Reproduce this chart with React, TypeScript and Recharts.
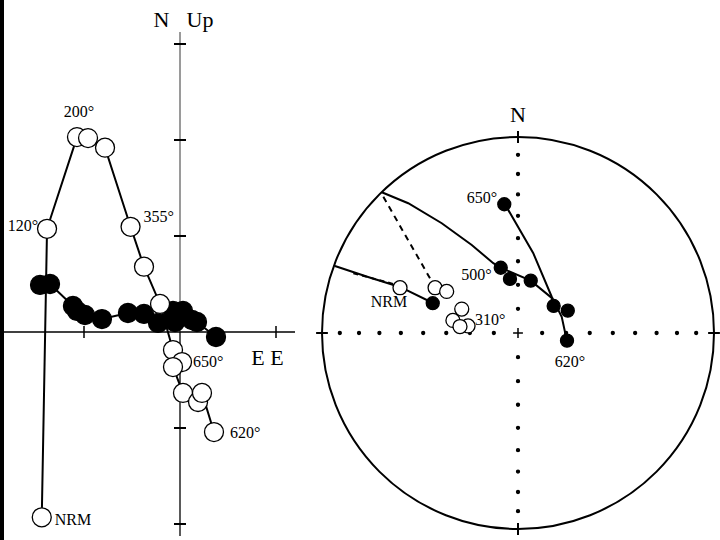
import { ReferenceDot, ReferenceLine, Scatter, ScatterChart, XAxis, YAxis } from "recharts";

const SERIF = '"Liberation Serif", "Times New Roman", serif';

// --- orthogonal (Zijderveld) plot, one unit = one axis tick ---
const zijTicksV = [-2, -1, 1, 2, 3];
const zijTicksH = [-1, 1];

// vertical projection (open)
const zijOpen = [
  { x: -1.44, y: -1.93, label: "NRM" },
  { x: -1.385, y: 1.075, label: "120°" },
  { x: -1.073, y: 2.03, label: "200°" },
  { x: -0.958, y: 2.02 },
  { x: -0.781, y: 1.92 },
  { x: -0.515, y: 1.096, label: "355°" },
  { x: -0.375, y: 0.68 },
  { x: -0.208, y: 0.292 },
  { x: -0.073, y: -0.188 },
  { x: 0.021, y: -0.313, label: "650°" },
  { x: -0.073, y: -0.365 },
  { x: 0.031, y: -0.635 },
  { x: 0.188, y: -0.729 },
  { x: 0.229, y: -0.635 },
  { x: 0.354, y: -1.042, label: "620°" },
];

// horizontal projection (filled)
const zijFilled = [
  { x: -1.458, y: 0.49 },
  { x: -1.354, y: 0.5 },
  { x: -1.115, y: 0.271 },
  { x: -1.073, y: 0.219 },
  { x: -0.99, y: 0.177 },
  { x: -0.813, y: 0.135 },
  { x: -0.542, y: 0.198 },
  { x: -0.375, y: 0.188 },
  { x: -0.229, y: 0.094 },
  { x: -0.073, y: 0.219 },
  { x: 0.031, y: 0.219 },
  { x: -0.052, y: 0.104 },
  { x: 0.125, y: 0.125 },
  { x: 0.177, y: 0.104 },
  { x: 0.375, y: -0.052 },
];

// --- equal-area stereonet, unit radius ---
const gridInc = [10, 20, 30, 40, 50, 60, 70, 80];
const axisDirs = [
  [0, 1],
  [1, 0],
  [0, -1],
  [-1, 0],
];

const stereoFilled = [
  { x: -0.07, y: 0.657, label: "650°" },
  { x: -0.088, y: 0.333, label: "500°" },
  { x: -0.041, y: 0.276 },
  { x: 0.065, y: 0.267 },
  { x: 0.182, y: 0.138 },
  { x: 0.254, y: 0.114 },
  { x: 0.25, y: -0.039, label: "620°" },
  { x: -0.435, y: 0.152 },
];

const stereoOpen = [
  { x: -0.602, y: 0.231, label: "NRM" },
  { x: -0.423, y: 0.231 },
  { x: -0.364, y: 0.212 },
  { x: -0.287, y: 0.122 },
  { x: -0.332, y: 0.064 },
  { x: -0.255, y: 0.036, label: "310°" },
  { x: -0.296, y: 0.033 },
];

const arcLower = [
  { x: -0.934, y: 0.342 },
  { x: -0.765, y: 0.286 },
  { x: -0.602, y: 0.235 },
  { x: -0.434, y: 0.153 },
];
const arcLowerDash = [
  { x: -0.84, y: 0.305 },
  { x: -0.636, y: 0.25 },
];
const arcUpper = [
  { x: -0.695, y: 0.718 },
  { x: -0.56, y: 0.662 },
  { x: -0.389, y: 0.56 },
  { x: -0.236, y: 0.449 },
  { x: -0.126, y: 0.356 },
  { x: -0.088, y: 0.333 },
  { x: 0.065, y: 0.267 },
  { x: 0.172, y: 0.179 },
  { x: 0.182, y: 0.138 },
];
const arcUpperDash = [
  { x: -0.687, y: 0.695 },
  { x: -0.449, y: 0.279 },
];
const arcPath = [
  { x: -0.07, y: 0.657 },
  { x: -0.05, y: 0.628 },
  { x: 0.078, y: 0.407 },
  { x: 0.172, y: 0.185 },
  { x: 0.223, y: 0.083 },
  { x: 0.245, y: -0.019 },
  { x: 0.25, y: -0.039 },
];

type LabelPos = { dx: number; dy: number; anchor: "start" | "middle" | "end" };

const ZIJ_LABELS: Record<string, LabelPos> = {
  NRM: { dx: 13, dy: 8, anchor: "start" },
  "120°": { dx: -9, dy: 2, anchor: "end" },
  "200°": { dx: 2, dy: -20, anchor: "middle" },
  "355°": { dx: 13, dy: -5, anchor: "start" },
  "650°": { dx: 11, dy: 5, anchor: "start" },
  "620°": { dx: 16, dy: 6, anchor: "start" },
};

const STEREO_LABELS: Record<string, LabelPos> = {
  "650°": { dx: -7, dy: -1, anchor: "end" },
  "500°": { dx: -9, dy: 12, anchor: "end" },
  "620°": { dx: 3, dy: 26, anchor: "middle" },
  NRM: { dx: -11, dy: 19, anchor: "middle" },
  "310°": { dx: 7, dy: -1, anchor: "start" },
};

function marker(r: number, fill: string, labels?: Record<string, LabelPos>) {
  return (p: any) => {
    const { cx, cy, payload } = p;
    const lab = labels && payload?.label ? labels[payload.label] : null;
    return (
      <g>
        {r > 0 && <circle cx={cx} cy={cy} r={r} fill={fill} stroke="#000" strokeWidth={1.3} />}
        {lab && (
          <text x={cx + lab.dx} y={cy + lab.dy} textAnchor={lab.anchor} fontSize={16} fontFamily={SERIF} fill="#000">
            {payload.label}
          </text>
        )}
      </g>
    );
  };
}

const none = () => <g />;

function Zijderveld() {
  const t = 0.0625;
  return (
    <ScatterChart width={300} height={540} margin={{ top: 0, right: 0, bottom: 0, left: 0 }}>
      <XAxis type="number" dataKey="x" domain={[-1.875, 1.25]} allowDataOverflow hide />
      <YAxis type="number" dataKey="y" domain={[-2.1667, 3.4583]} allowDataOverflow hide />
      <ReferenceLine segment={[{ x: 0, y: 0 }, { x: 0, y: 3.125 }]} stroke="#9a9a9a" strokeWidth={2} />
      <ReferenceLine segment={[{ x: 0, y: -2.125 }, { x: 0, y: 0 }]} stroke="#000" strokeWidth={1.3} />
      <ReferenceLine segment={[{ x: -1.875, y: 0 }, { x: 1.198, y: 0 }]} stroke="#000" strokeWidth={1.5} />
      {zijTicksV.map((v) => (
        <ReferenceLine key={"v" + v} segment={[{ x: -t, y: v }, { x: t, y: v }]} stroke="#000" strokeWidth={2} />
      ))}
      {zijTicksH.map((v) => (
        <ReferenceLine key={"h" + v} segment={[{ x: v, y: -t }, { x: v, y: t }]} stroke="#000" strokeWidth={1.5} />
      ))}
      <ReferenceDot x={-0.193} y={3.125} r={0} label={{ value: "N", position: "top", offset: 5, fontSize: 22, fontFamily: SERIF, fill: "#000" }} />
      <ReferenceDot x={0.208} y={3.125} r={0} label={{ value: "Up", position: "top", offset: 5, fontSize: 22, fontFamily: SERIF, fill: "#000" }} />
      <ReferenceDot x={0.911} y={0} r={0} label={{ value: "E E", position: "bottom", offset: 17, fontSize: 22, fontFamily: SERIF, fill: "#000" }} />
      <Scatter data={zijOpen} shape={none} line={{ stroke: "#000", strokeWidth: 2 }} isAnimationActive={false} />
      <Scatter data={zijFilled} shape={marker(9.5, "#000")} line={{ stroke: "#000", strokeWidth: 2 }} isAnimationActive={false} />
      <Scatter data={zijOpen} shape={marker(9.5, "#fff", ZIJ_LABELS)} isAnimationActive={false} />
    </ScatterChart>
  );
}

function Stereonet() {
  const gridDots = axisDirs.flatMap(([dx, dy]) =>
    gridInc.map((inc) => {
      const r = Math.SQRT2 * Math.sin(((90 - inc) / 2) * (Math.PI / 180));
      return { x: dx * r, y: dy * r };
    })
  );
  const c = 0.025;
  return (
    <ScatterChart width={410} height={440} margin={{ top: 30, right: 0, bottom: 0, left: 0 }}>
      <XAxis type="number" dataKey="x" domain={[-1.0459, 1.0459]} allowDataOverflow hide />
      <YAxis type="number" dataKey="y" domain={[-1.0459, 1.0459]} allowDataOverflow hide />
      <ReferenceDot x={0} y={0} r={196} fill="none" stroke="#000" strokeWidth={2} />
      {axisDirs.map(([dx, dy]) => (
        <ReferenceLine
          key={dx + "_" + dy}
          segment={[
            { x: dx * 0.97, y: dy * 0.97 },
            { x: dx * 1.03, y: dy * 1.03 },
          ]}
          stroke="#000"
          strokeWidth={2}
        />
      ))}
      <ReferenceLine segment={[{ x: -c, y: 0 }, { x: c, y: 0 }]} stroke="#000" strokeWidth={1.5} />
      <ReferenceLine segment={[{ x: 0, y: -c }, { x: 0, y: c }]} stroke="#000" strokeWidth={1.5} />
      <ReferenceDot x={0} y={1} r={0} label={{ value: "N", position: "top", offset: 15, fontSize: 22, fontFamily: SERIF, fill: "#000" }} />
      <Scatter data={gridDots} shape={marker(1.5, "#000")} isAnimationActive={false} />
      <Scatter data={arcLower} shape={none} line={{ stroke: "#000", strokeWidth: 2 }} isAnimationActive={false} />
      <Scatter data={arcLowerDash} shape={none} line={{ stroke: "#000", strokeWidth: 2, strokeDasharray: "5 4" }} isAnimationActive={false} />
      <Scatter data={arcUpper} shape={none} line={{ stroke: "#000", strokeWidth: 2 }} isAnimationActive={false} />
      <Scatter data={arcUpperDash} shape={none} line={{ stroke: "#000", strokeWidth: 2, strokeDasharray: "6 5" }} isAnimationActive={false} />
      <Scatter data={arcPath} shape={none} line={{ stroke: "#000", strokeWidth: 2 }} isAnimationActive={false} />
      <Scatter data={stereoOpen} shape={marker(7, "#fff", STEREO_LABELS)} isAnimationActive={false} />
      <Scatter data={stereoFilled} shape={marker(6.5, "#000", STEREO_LABELS)} isAnimationActive={false} />
    </ScatterChart>
  );
}

export default function App() {
  return (
    <div style={{ position: "absolute", left: 0, top: 0, width: 720, height: 540, background: "#fff", overflow: "hidden" }}>
      <div style={{ position: "absolute", left: 0, top: 0, width: 4, height: 540, background: "#000" }} />
      <div style={{ position: "absolute", left: 0, top: 0 }}>
        <Zijderveld />
      </div>
      <div style={{ position: "absolute", left: 313, top: 98 }}>
        <Stereonet />
      </div>
    </div>
  );
}
